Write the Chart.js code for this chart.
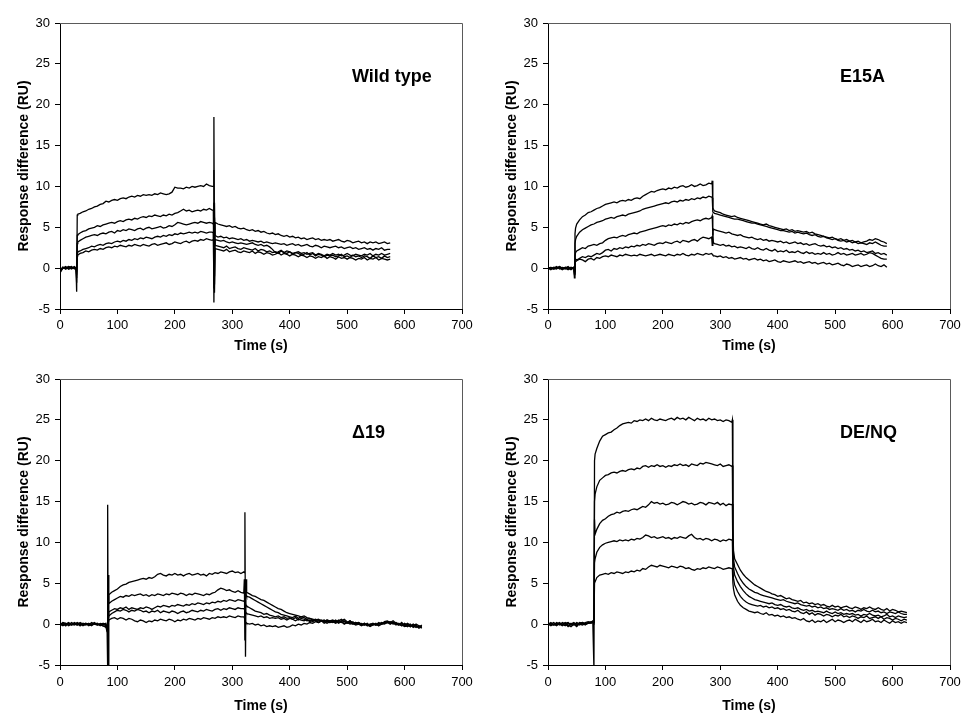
<!DOCTYPE html>
<html>
<head>
<meta charset="utf-8">
<script src="https://cdn.jsdelivr.net/npm/chart.js@4.4.1/dist/chart.umd.min.js"></script>
<style>
  html, body { margin: 0; padding: 0; background: #fff; }
  #hoja { position: relative; width: 976px; height: 728px; }
  .panel { position: absolute; width: 488px; height: 364px; }
</style>
</head>
<body>
<div id="hoja">
  <div class="panel" style="left:0;top:0"><canvas id="gWT" width="488" height="364"></canvas></div>
  <div class="panel" style="left:488px;top:0"><canvas id="gE15A" width="488" height="364"></canvas></div>
  <div class="panel" style="left:0;top:360px"><canvas id="gD19" width="488" height="364"></canvas></div>
  <div class="panel" style="left:488px;top:360px"><canvas id="gDENQ" width="488" height="364"></canvas></div>
</div>
<script>
// Wild type
var tiempoWT = [0,5,10,15,20,25,28,29,30,31,
  35,40,45,50,55,60,65,70,75,80,85,90,95,100,105,110,115,120,125,130,135,140,145,150,155,160,165,170,175,180,185,190,195,200,205,210,215,220,225,230,235,240,245,250,255,260,265,
  267,268,269,270,
  275,280,285,290,295,300,305,310,315,320,325,330,335,340,345,350,355,360,365,370,375,380,385,390,395,400,405,410,415,420,425,430,435,440,445,450,455,460,465,470,475,480,485,490,495,500,505,510,515,520,525,530,535,540,545,550,555,560,565,570,575];
var wt1 = [-0.5,0.1,-0.1,0.2,0.0,0.1,-0.2,-2.9,6.5,6.6,
  6.7,6.9,7.0,7.2,7.3,7.5,7.6,7.8,7.9,8.2, 8.1,8.3,8.4,8.3,8.5,8.6,8.5,8.7,8.8,8.7, 8.9,8.8,9.0,8.9,9.0,8.9,9.1,9.0,9.2,9.1, 9.0,9.1,9.3,9.9,9.8,9.8,9.7,9.9,9.8,10.0, 9.9,10.0,10.1,10.0,10.3,10.1,10.0,
  10.0,18.5,-1.0,5.6,
  5.4,5.3,5.2,5.1,5.2,5.0,5.1,4.9,4.8,4.9, 4.7,4.6,4.7,4.5,4.6,4.4,4.5,4.3,4.2,4.3, 4.1,4.2,4.0,3.9,4.0,3.8,3.9,3.7,3.8,3.6, 3.7,3.5,3.6,3.7,3.5,3.6,3.4,3.5,3.4,3.5, 3.3,3.4,3.5,3.3,3.2,3.4,3.3,3.1,3.2,3.3, 3.1,3.2,3.0,3.2,3.1,3.2,3.0,3.1,3.2,3.0, 3.1];
var wt2 = [-0.3,0.0,0.2,-0.1,0.1,0.0,0.1,-1.8,4.0,4.1,
  4.3,4.5,4.6,4.8,4.9,5.0,5.2,5.1,5.3,5.4, 5.5,5.6,5.5,5.7,5.8,5.7,5.9,6.0,5.9,6.1, 6.0,6.2,6.3,6.2,6.4,6.3,6.5,6.4,6.3,6.5, 6.4,6.6,6.5,6.7,6.8,7.0,7.2,7.0,7.1,6.9, 7.0,7.1,7.0,7.2,7.1,7.3,7.1,
  7.1,-4.2,6.2,4.0,
  3.8,3.9,3.7,3.8,3.6,3.7,3.6,3.5,3.6,3.4, 3.5,3.3,3.4,3.3,3.2,3.3,3.1,3.2,3.1,3.0, 3.1,3.0,2.9,3.0,2.8,2.9,3.0,2.8,2.9,2.7, 2.8,2.9,2.7,2.6,2.8,2.7,2.5,2.7,2.6,2.5, 2.6,2.7,2.5,2.6,2.4,2.5,2.6,2.4,2.5,2.3, 2.4,2.5,2.3,2.4,2.2,2.4,2.3,2.5,2.2,2.3, 2.3];
var wt3 = [-0.2,0.1,0.0,0.2,-0.1,0.1,0.0,-1.2,3.0,3.2,
  3.4,3.6,3.8,3.9,4.0,4.1,4.0,4.2,4.3,4.2, 4.4,4.5,4.3,4.6,4.5,4.7,4.6,4.8,4.7,4.6, 4.8,4.9,4.7,4.9,5.0,4.8,4.9,5.0,5.1,4.9, 5.0,5.2,5.1,5.3,5.6,5.5,5.4,5.3,5.4,5.5, 5.6,5.5,5.7,5.6,5.5,5.6,5.5,
  5.4,12.0,-2.0,3.5,
  3.4,3.3,3.4,3.2,3.1,3.2,3.1,3.0,3.1,3.0, 2.9,3.0,3.1,2.9,2.8,2.9,2.7,2.8,2.6,2.3, 1.9,2.0,2.2,1.9,2.1,2.0,1.8,1.9,2.0,1.8, 1.9,1.7,1.8,1.9,1.6,1.8,1.7,1.5,1.7,1.6, 1.8,1.6,1.7,1.5,1.6,1.8,1.6,1.5,1.7,1.6, 1.5,1.7,1.6,1.8,1.5,1.7,1.6,1.8,1.6,1.7, 1.8];
var wt4 = [-0.4,0.1,-0.1,0.1,0.2,-0.1,0.1,-0.8,1.9,2.0,
  2.1,2.3,2.4,2.5,2.7,2.6,2.8,2.9,2.8,3.0, 3.1,3.0,3.2,3.3,3.2,3.4,3.3,3.5,3.4,3.6, 3.5,3.7,3.6,3.8,3.7,3.6,3.8,3.9,3.8,4.0, 3.9,4.1,4.0,4.2,4.1,4.3,4.2,4.3,4.4,4.3, 4.4,4.3,4.5,4.4,4.3,4.4,4.4,
  4.3,-2.5,8.0,2.8,
  2.7,2.6,2.5,2.7,2.4,2.5,2.6,2.4,2.3,2.5, 2.4,2.3,2.2,2.4,2.1,2.3,2.2,2.0,2.1,1.9, 2.0,1.8,2.1,1.9,1.8,2.0,1.7,1.9,1.8,1.6, 1.7,1.9,1.6,1.8,1.5,1.7,1.6,1.4,1.6,1.5, 1.6,1.4,1.5,1.7,1.4,1.5,1.3,1.6,1.4,1.5, 1.3,1.5,1.4,1.2,1.5,1.3,1.4,1.2,1.5,1.3, 1.4];
var wt5 = [-0.6,0.0,0.1,-0.1,0.0,0.2,-0.1,-0.5,1.5,1.6,
  1.8,1.9,2.1,2.0,2.2,2.3,2.2,2.4,2.3,2.5, 2.6,2.5,2.7,2.6,2.8,2.7,2.6,2.8,2.7,2.9, 2.8,2.7,2.9,2.8,2.7,2.9,3.0,2.8,2.9,3.0, 3.1,2.9,3.0,3.2,3.1,3.0,3.2,3.3,3.1,3.3, 3.4,3.3,3.5,3.4,3.6,3.5,3.4,
  3.5,8.0,-3.0,2.4,
  2.3,2.2,2.1,2.3,2.0,2.1,2.2,2.0,1.9,2.1, 2.0,1.9,2.1,1.8,2.0,1.9,1.7,1.9,1.8,1.6, 1.7,1.9,1.6,1.8,1.7,1.5,1.7,1.6,1.4,1.6, 1.5,1.3,1.5,1.4,1.2,1.4,1.3,1.5,1.2,1.4, 1.3,1.1,1.4,1.2,1.3,1.1,1.3,1.2,1.0,1.2, 1.1,1.3,1.0,1.2,1.1,1.3,1.0,1.2,1.1,1.0, 1.1];

// E15A
var tiempoE15A = [0,5,10,15,20,25,30,35,40,45,46,47,48,
  50,55,60,65,70,75,80,85,90,95,100,105,110,115,120,125,130,135,140,145,150,155,160,165,170,175,180,185,190,195,200,205,210,215,220,225,230,235,240,245,250,255,260,265,270,275,280,285,
  286,287,288,
  290,295,300,305,310,315,320,325,330,335,340,345,350,355,360,365,370,375,380,385,390,395,400,405,410,415,420,425,430,435,440,445,450,455,460,465,470,475,480,485,490,495,500,505,510,515,520,525,530,535,540,545,550,555,560,565,570,575,580,585,590];
var e1 = [0.1,-0.1,0.0,0.2,-0.1,0.1,0.0,-0.2,0.1,0.0,-1.2,4.2,4.9,
  5.4,5.9,6.3,6.5,6.8,6.9,7.1,7.3,7.4,7.6, 7.8,7.9,8.0,8.1,8.0,8.2,8.3,8.2,8.4,8.3, 8.5,8.6,8.5,8.8,9.0,9.2,9.4,9.3,9.5,9.6, 9.7,9.6,9.8,9.7,9.9,9.8,10.0,10.1,9.9,10.0, 10.2,10.0,10.1,10.3,10.1,10.2,10.4,10.3,
  10.7,7.4,7.2,
  7.0,6.9,6.8,6.6,6.5,6.4,6.3,6.4,6.2,6.1, 6.0,5.9,5.8,5.7,5.6,5.5,5.4,5.3,5.4,5.2, 5.1,5.0,4.9,4.8,4.7,4.8,4.6,4.7,4.5,4.6, 4.5,4.4,4.5,4.3,4.4,4.2,4.1,4.0,3.9,3.8, 3.7,3.8,3.6,3.5,3.6,3.4,3.5,3.3,3.4,3.2, 3.3,3.1,3.2,3.3,3.5,3.4,3.6,3.5,3.3,3.2, 3.0];
var e2 = [0.0,0.1,-0.1,0.0,0.2,-0.1,0.1,0.0,-0.2,0.1,-0.8,3.0,3.5,
  3.9,4.4,4.7,4.9,5.1,5.3,5.4,5.6,5.7,5.8, 6.0,6.1,6.2,6.1,6.3,6.4,6.5,6.4,6.6,6.7, 6.8,6.9,7.0,7.2,7.3,7.4,7.5,7.6,7.7,7.8, 7.9,8.0,7.9,8.1,8.2,8.1,8.3,8.2,8.4,8.3, 8.5,8.4,8.6,8.5,8.7,8.6,8.8,8.7,
  8.6,6.9,6.8,
  6.7,6.6,6.5,6.4,6.3,6.2,6.1,6.0,6.0,5.9, 5.8,5.7,5.6,5.5,5.5,5.4,5.3,5.2,5.1,5.0, 4.9,4.8,4.7,4.6,4.6,4.5,4.4,4.5,4.3,4.4, 4.3,4.2,4.3,4.1,4.0,4.1,3.9,3.8,3.9,3.7, 3.6,3.5,3.6,3.4,3.3,3.4,3.2,3.3,3.1,3.2, 3.0,3.1,3.0,2.9,3.1,3.0,3.2,3.0,2.8,2.7, 2.7];
var e3 = [-0.1,0.1,0.0,-0.1,0.2,0.0,-0.1,0.1,0.0,0.1,-0.6,1.5,1.9,
  2.1,2.3,2.5,2.4,2.7,2.8,2.9,2.8,3.0,3.1, 3.4,3.6,3.7,3.8,3.7,3.9,4.0,3.9,4.1,4.2, 4.3,4.2,4.4,4.5,4.6,4.7,4.8,4.9,5.0,5.1, 5.2,5.1,5.3,5.2,5.4,5.3,5.5,5.4,5.6,5.5, 5.7,5.8,5.9,5.8,6.0,6.1,6.0,6.2,
  6.4,4.0,4.8,
  4.7,4.6,4.5,4.4,4.3,4.4,4.2,4.1,4.0,4.1, 3.9,3.8,3.7,3.8,3.6,3.5,3.6,3.4,3.5,3.3, 3.4,3.3,3.2,3.3,3.1,3.2,3.0,3.1,3.2,3.0, 3.1,2.9,3.0,2.8,2.9,3.0,2.8,2.7,2.8,2.6, 2.7,2.5,2.6,2.4,2.5,2.3,2.4,2.2,2.3,2.1, 2.2,2.0,2.1,1.9,2.0,2.1,1.8,1.9,1.7,1.8, 1.6];
var e4 = [0.0,-0.2,0.1,0.0,0.1,-0.1,0.0,0.2,-0.1,0.0,-0.4,0.9,1.1,
  1.0,1.2,1.4,1.3,1.5,1.4,1.6,1.8,1.7,1.9, 2.2,2.3,2.1,2.4,2.3,2.5,2.4,2.6,2.5,2.7, 2.6,2.8,2.7,2.9,2.8,3.0,2.9,2.8,3.0,3.1, 3.0,3.2,3.1,3.0,3.2,3.3,3.1,3.4,3.3,3.2, 3.4,3.5,3.3,3.6,3.8,3.7,3.6,3.8,
  2.8,4.4,3.1,
  3.0,2.9,2.8,2.9,2.7,2.8,2.6,2.7,2.5,2.6, 2.5,2.4,2.6,2.4,2.3,2.5,2.3,2.2,2.4,2.2, 2.1,2.3,2.0,2.1,2.0,2.2,1.9,2.0,1.9,2.1, 1.9,1.8,2.0,1.8,1.9,1.7,1.8,1.7,1.9,1.7, 1.8,1.6,1.7,1.9,1.7,1.8,1.6,1.7,1.8,1.6, 1.7,1.8,1.6,1.7,1.9,1.8,1.6,1.4,1.2,1.1, 1.1];
var e5 = [0.1,0.0,-0.1,0.1,0.0,-0.2,0.1,0.0,-0.1,0.1,-0.2,0.6,0.8,
  0.9,1.1,1.0,0.8,1.1,1.2,1.0,1.3,1.2,1.4, 1.5,1.4,1.6,1.5,1.4,1.6,1.5,1.7,1.6,1.5, 1.6,1.5,1.7,1.6,1.5,1.6,1.7,1.5,1.6,1.7, 1.6,1.5,1.7,1.6,1.5,1.7,1.6,1.8,1.6,1.5, 1.7,1.6,1.8,1.7,1.6,1.8,1.7,1.8,
  1.7,1.6,1.5,
  1.5,1.4,1.5,1.3,1.4,1.2,1.3,1.1,1.2,1.3, 1.1,1.2,1.0,1.1,1.2,1.0,1.1,0.9,1.0,0.8, 0.9,1.0,0.8,0.7,0.9,0.8,0.7,0.8,0.9,0.7, 0.8,0.6,0.7,0.8,0.6,0.7,0.5,0.6,0.7,0.5, 0.6,0.4,0.5,0.6,0.4,0.3,0.5,0.4,0.2,0.3, 0.4,0.2,0.3,0.4,0.2,0.3,0.5,0.3,0.2,0.4, 0.1];

// Delta 19
var tiempoD19 = [0,5,10,15,20,25,30,35,40,45,50,55,60,65,70,75,80,82,83,84,
  85,90,95,100,105,110,115,120,125,130,135,140,145,150,155,160,165,170,175,180,185,190,195,200,205,210,215,220,225,230,235,240,245,250,255,260,265,270,275,280,285,290,295,300,305,310,315,320,
  321,322,323,324,
  325,330,335,340,345,350,355,360,365,370,375,380,385,390,395,400,405,410,415,420,425,430,435,440,445,450,455,460,465,470,475,480,485,490,495,500,505,510,515,520,525,530,535,540,545,550,555,560,565,570,575,580,585,590,595,600,605,610,615,620,625,630];
var d1 = [-0.1,0.2,0.1,-0.2,0.0,0.1,-0.1,0.2,0.0,-0.1,0.1,0.0,0.2,-0.1,0.0,-0.2,-0.3,-0.5,14.6,-5.5,
  3.6,3.9,4.1,4.3,4.6,4.8,4.9,5.1,5.2,5.3, 5.4,5.5,5.6,5.5,5.7,5.6,5.8,6.1,6.2,6.0, 5.9,6.1,6.0,6.2,6.0,6.1,5.9,6.1,6.2,6.0, 6.1,6.2,6.0,6.1,5.9,6.2,6.1,6.3,6.2,6.4, 6.3,6.2,6.4,6.5,6.3,6.4,6.2,6.4,
  6.3,13.7,-4.0,5.5,
  3.9,3.7,3.5,3.4,3.2,3.0,2.9,2.7,2.5,2.3, 2.1,1.9,1.8,1.6,1.4,1.3,1.2,1.1,1.0,0.9, 1.0,0.8,0.7,0.6,0.5,0.6,0.4,0.5,0.3,0.4, 0.5,0.3,0.4,0.6,0.3,0.2,0.4,0.1,0.0,0.2, 0.0,-0.1,0.1,-0.2,0.0,-0.1,0.1,0.0,0.2,0.3, 0.1,0.2,0.0,-0.1,0.1,-0.2,0.0,-0.3,-0.1,-0.2, -0.3,-0.2];
var d2 = [0.1,-0.1,0.0,0.2,-0.1,0.0,0.1,-0.2,0.1,0.0,-0.1,0.2,0.0,-0.1,0.1,0.0,-0.2,-0.6,-5.5,6.0,
  2.5,2.8,3.0,3.2,3.4,3.3,3.5,3.4,3.6,3.5, 3.6,3.7,3.5,3.6,3.4,3.6,3.5,3.7,3.6,3.5, 3.7,3.6,3.8,3.7,3.6,3.8,3.7,3.5,3.7,3.6, 3.8,3.7,3.6,3.5,3.7,3.6,3.8,3.9,4.2,4.4, 4.3,4.1,4.2,4.0,3.9,4.1,3.9,3.8,
  5.5,-2.0,4.8,3.6,
  3.4,3.3,3.1,2.9,2.7,2.5,2.3,2.1,1.9,1.7, 1.5,1.4,1.2,1.1,1.0,0.9,0.8,1.0,0.7,0.9, 0.8,0.6,0.7,0.5,0.6,0.4,0.5,0.3,0.5,0.4, 0.3,0.5,0.2,0.4,0.6,0.3,0.1,0.3,0.0,0.2, -0.1,0.1,-0.2,0.0,0.1,-0.1,0.2,0.0,0.3,0.4, 0.2,0.0,0.1,-0.1,0.2,-0.2,0.1,-0.1,-0.3,0.0, -0.2,-0.4];
var d3 = [0.0,0.1,-0.2,0.1,0.0,-0.1,0.2,0.0,-0.1,0.1,0.0,-0.2,0.1,0.0,-0.1,0.1,-0.1,-0.8,2.0,1.2,
  1.5,1.7,1.9,1.8,2.0,1.9,2.1,1.8,2.0,1.9, 1.8,2.0,1.9,2.1,2.0,1.8,2.0,2.2,2.1,2.3, 2.2,2.1,2.3,2.2,2.4,2.3,2.2,2.4,2.3,2.5, 2.4,2.6,2.5,2.4,2.6,2.5,2.7,2.6,2.8,2.7, 2.9,2.8,3.0,2.9,2.8,3.0,2.9,2.8,
  2.9,3.0,2.5,2.3,
  2.2,2.0,1.8,1.6,1.5,1.4,1.2,1.3,1.1,1.0, 0.9,1.0,0.8,0.9,0.7,0.8,0.6,0.8,0.5,0.7, 0.6,0.4,0.5,0.3,0.5,0.2,0.4,0.3,0.1,0.3, 0.2,0.4,0.1,0.3,0.0,0.2,0.4,0.1,0.2,0.0, 0.1,-0.1,0.0,-0.2,0.1,-0.1,0.0,0.2,0.1,0.3, 0.2,0.4,0.1,0.0,-0.2,0.1,-0.1,-0.3,0.0,-0.2, -0.4,-0.1];
var d4 = [-0.2,0.0,0.1,-0.1,0.2,0.0,-0.1,0.1,-0.2,0.0,0.1,-0.1,0.0,0.1,-0.2,0.0,0.1,-0.4,1.0,0.9,
  1.0,1.3,1.5,1.7,1.6,1.8,1.7,1.5,1.7,1.6, 1.8,1.7,1.5,1.6,1.4,1.6,1.5,1.7,1.4,1.6, 1.5,1.4,1.6,1.5,1.3,1.5,1.6,1.4,1.5,1.7, 1.6,1.5,1.7,1.6,1.8,1.7,1.6,1.8,1.9,1.7, 1.9,1.8,2.0,1.9,1.8,2.0,1.9,1.9,
  1.8,1.9,1.5,1.4,
  1.3,1.2,1.1,1.0,0.9,1.0,0.8,0.9,0.7,0.8, 0.7,0.8,0.6,0.7,0.5,0.7,0.6,0.4,0.6,0.5, 0.4,0.6,0.3,0.5,0.4,0.2,0.4,0.3,0.5,0.2, 0.3,0.1,0.3,0.2,0.4,0.1,0.2,0.0,0.2,0.1, -0.1,0.1,-0.2,0.0,-0.1,0.1,-0.2,0.0,0.1,0.2, 0.0,0.2,-0.1,0.1,-0.2,0.0,-0.3,-0.1,-0.2,-0.4, -0.2,-0.5];
var d5 = [0.1,-0.2,0.0,0.1,-0.1,0.2,0.0,-0.1,0.0,0.1,-0.2,0.0,0.1,0.0,-0.1,-0.2,-0.4,-0.9,0.2,0.4,
  0.5,0.7,0.8,0.6,0.8,0.7,0.5,0.7,0.6,0.4, 0.3,0.5,0.4,0.2,0.4,0.3,0.5,0.4,0.6,0.5, 0.4,0.6,0.5,0.3,0.5,0.4,0.6,0.5,0.7,0.6, 0.5,0.7,0.6,0.8,0.7,0.6,0.8,0.7,0.9,0.8, 0.9,0.8,1.0,0.9,0.8,1.0,0.9,0.9,
  0.8,0.5,0.2,0.2,
  0.1,0.0,0.1,-0.1,0.0,-0.2,-0.1,-0.3,-0.2,-0.3, -0.2,-0.4,-0.3,-0.2,-0.4,-0.3,-0.1,-0.2,0.0,-0.1, 0.1,0.0,0.2,0.1,0.3,0.2,0.4,0.1,0.3,0.2, 0.4,0.2,0.5,0.3,0.1,0.2,0.0,0.1,-0.1,0.0, -0.2,0.0,-0.1,-0.3,-0.1,0.0,-0.2,0.1,0.0,0.2, 0.3,0.1,0.2,0.0,-0.1,-0.3,-0.2,0.0,-0.4,-0.2, -0.5,-0.3];

// DE/NQ
var tiempoDENQ = [0,5,10,15,20,25,30,35,40,45,50,55,60,65,70,75,78,80,81,82,
  85,90,95,100,105,110,115,120,125,130,135,140,145,150,155,160,165,170,175,180,185,190,195,200,205,210,215,220,225,230,235,240,245,250,255,260,265,270,275,280,285,290,295,300,305,310,315,320,
  321,322,323,
  325,330,335,340,345,350,355,360,365,370,375,380,385,390,395,400,405,410,415,420,425,430,435,440,445,450,455,460,465,470,475,480,485,490,495,500,505,510,515,520,525,530,535,540,545,550,555,560,565,570,575,580,585,590,595,600,605,610,615,620,625];
var n1 = [-0.2,0.1,-0.1,0.2,0.0,-0.2,0.1,0.2,-0.1,0.0,-0.3,0.1,0.0,0.2,0.3,0.2,0.3,-5.5,20.0,20.8,
  21.5,22.4,23.0,23.2,23.4,23.5,23.8,24.0,24.3,24.5, 24.6,24.7,24.6,24.9,24.8,25.0,24.9,25.1,24.9,25.2, 25.0,24.9,25.1,25.0,24.9,25.1,25.2,25.0,25.3,25.1, 25.2,25.0,25.3,25.1,24.9,25.2,25.0,25.1,24.9,25.2, 25.0,25.1,24.9,25.0,24.8,25.0,24.9,24.7,
  25.0,12.0,9.0,
  8.0,7.3,6.6,6.1,5.7,5.4,5.1,4.8,4.6,4.4, 4.2,4.0,3.9,3.7,3.6,3.4,3.5,3.3,3.1,3.2, 3.0,2.9,2.8,2.9,2.6,2.7,2.5,2.6,2.4,2.5, 2.3,2.4,2.2,2.1,2.3,2.1,2.2,2.0,2.1,2.2, 2.0,1.9,2.1,2.0,1.8,2.0,1.9,2.1,1.9,1.8, 2.0,1.8,1.7,1.9,1.6,1.8,1.7,1.5,1.6,1.5, 1.4];
var n2 = [0.1,-0.2,0.0,0.1,-0.1,0.2,0.0,-0.2,0.1,-0.1,0.2,0.0,-0.1,0.1,0.2,0.3,0.2,0.2,15.0,15.9,
  16.8,17.6,17.9,18.2,18.3,18.5,18.6,18.5,18.7,18.8, 18.7,18.9,19.0,18.9,19.1,19.0,19.3,19.4,19.2,19.4, 19.3,19.5,19.3,19.4,19.2,19.4,19.3,19.5,19.4,19.6, 19.4,19.5,19.3,19.6,19.5,19.4,19.7,19.6,19.8,19.7, 19.6,19.5,19.4,19.6,19.3,19.4,19.5,19.3,
  19.4,10.0,8.0,
  7.0,6.2,5.5,5.0,4.6,4.3,4.1,3.9,3.8,3.6, 3.5,3.4,3.3,3.2,3.1,3.0,2.9,3.0,2.8,2.7, 2.6,2.5,2.6,2.4,2.3,2.2,2.3,2.1,2.2,2.0, 2.1,1.9,2.0,1.8,1.9,1.8,1.7,1.9,1.7,1.8, 1.6,1.7,1.5,1.7,1.6,1.8,1.6,1.5,1.7,1.5, 1.6,1.4,1.5,1.3,1.5,1.4,1.3,1.5,1.3,1.2, 1.2];
var n3 = [-0.1,0.0,0.2,-0.1,0.1,0.0,-0.2,0.1,0.0,0.2,-0.1,0.1,0.2,0.0,0.1,0.2,0.4,0.3,12.8,11.0,
  11.6,12.3,12.7,12.9,13.2,13.4,13.5,13.7,13.6,13.8, 13.9,13.8,14.0,14.1,14.0,14.2,14.4,14.3,14.6,15.0, 14.8,14.9,14.7,14.8,14.6,14.7,14.9,14.8,14.6,14.8, 15.0,14.9,14.7,14.8,14.6,14.7,14.9,14.8,14.6,14.9, 14.8,14.7,14.9,14.6,14.8,14.5,14.7,14.6,
  14.7,8.0,7.0,
  6.0,5.2,4.6,4.1,3.7,3.4,3.2,3.0,2.9,2.8, 2.7,2.6,2.5,2.6,2.4,2.3,2.4,2.2,2.1,2.2, 2.0,1.9,2.0,1.8,1.7,1.8,1.6,1.7,1.5,1.6, 1.5,1.4,1.6,1.4,1.3,1.5,1.3,1.4,1.2,1.3, 1.2,1.3,1.1,1.2,1.0,1.2,1.1,1.3,1.1,1.0, 1.1,0.9,1.0,1.2,0.9,1.0,0.8,1.0,0.9,0.8, 0.9];
var n4 = [0.0,0.2,-0.1,0.0,0.2,-0.1,0.1,-0.3,0.0,0.1,-0.2,0.2,0.1,-0.1,0.2,0.1,0.3,0.1,7.5,8.0,
  8.8,9.4,9.7,9.9,10.0,10.1,10.2,10.1,10.3,10.2, 10.3,10.2,10.4,10.3,10.5,10.4,10.6,10.9,10.8,10.6, 10.7,10.5,10.6,10.7,10.5,10.6,10.4,10.6,10.5,10.7, 10.6,10.5,10.8,11.0,10.6,10.4,10.5,10.3,10.5,10.4, 10.2,10.4,10.3,10.1,10.3,10.2,10.4,10.3,
  10.3,6.5,5.6,
  4.8,4.0,3.4,3.0,2.7,2.5,2.4,2.3,2.2,2.3, 2.1,2.2,2.0,2.1,1.9,2.0,1.8,1.9,1.7,1.8, 1.6,1.5,1.7,1.4,1.3,1.5,1.2,1.4,1.1,1.3, 1.2,1.0,1.2,1.1,0.9,1.1,1.0,1.2,0.9,1.0, 0.8,1.0,0.9,0.7,0.9,0.8,1.0,0.7,0.8,0.9, 0.7,0.9,0.6,0.8,0.7,0.5,0.7,0.6,0.4,0.6, 0.5];
var n5 = [0.1,-0.1,0.0,-0.2,0.1,0.0,0.2,-0.1,-0.3,0.0,0.1,-0.1,0.2,0.0,0.1,0.2,0.2,0.2,5.0,5.2,
  5.7,6.0,6.1,6.2,6.1,6.3,6.2,6.4,6.3,6.2, 6.4,6.3,6.5,6.4,6.6,6.5,6.8,6.7,7.0,7.2, 7.1,7.0,7.2,7.1,7.0,6.9,7.1,7.0,6.9,7.1, 7.0,6.8,6.9,6.7,6.6,6.8,6.7,6.9,6.8,7.0, 6.9,6.8,7.0,6.9,6.7,6.8,6.9,6.8,
  6.8,5.0,4.3,
  3.6,2.8,2.3,2.0,1.8,1.6,1.5,1.4,1.5,1.3, 1.2,1.4,1.1,1.2,1.0,1.1,0.9,1.0,0.8,0.9, 0.7,0.8,0.6,0.5,0.7,0.4,0.3,0.5,0.2,0.4, 0.3,0.5,0.2,0.4,0.6,0.3,0.5,0.4,0.2,0.4, 0.5,0.3,0.6,0.4,0.2,0.5,0.3,0.4,0.6,0.3, 0.4,0.2,0.5,0.3,0.1,0.4,0.2,0.3,0.1,0.3, 0.2];

var ejeX = [0, 700, 100];
var ejeY = [-5, 30, 5];

Chart.defaults.font.family = "'Liberation Sans', Arial, Helvetica, sans-serif";
Chart.defaults.color = '#000';

// frame top/right edges and the panel name
var rotulo = {
  id: 'rotulo',
  afterDraw: function(chart, args, opts) {
    var a = chart.chartArea;
    var ctx = chart.ctx;
    ctx.save();
    ctx.strokeStyle = '#5a5a5a';
    ctx.lineWidth = 1;
    ctx.beginPath();
    ctx.moveTo(a.left, a.top + 0.5);
    ctx.lineTo(a.right + 0.5, a.top + 0.5);
    ctx.lineTo(a.right + 0.5, a.bottom);
    ctx.stroke();
    ctx.fillStyle = '#000';
    ctx.font = 'bold 18px "Liberation Sans", Arial, sans-serif';
    ctx.textAlign = 'left';
    ctx.textBaseline = 'alphabetic';
    ctx.fillText(opts.texto, a.left + 292, a.top + 59);
    ctx.restore();
  }
};

function mostrarGrafico(id, texto, tiempos, curvas, arriba, altoX, padX) {
  var ctx = document.getElementById(id);
  var series = [];
  curvas.forEach(function(c) {
    series.push({
      data: tiempos.map(function(t, i) { return {x: t, y: c[i]}; }),
      borderColor: '#000',
      borderWidth: 1.3,
      pointRadius: 0,
      tension: 0,
      fill: false
    });
  });
  new Chart(ctx, {
    type: 'line',
    data: { datasets: series },
    options: {
      responsive: false,
      animation: false,
      devicePixelRatio: 1,
      layout: { padding: { top: arriba, right: 26, left: 0, bottom: 0 } },
      plugins: {
        legend: { display: false },
        tooltip: { enabled: false },
        rotulo: { texto: texto }
      },
      scales: {
        x: {
          type: 'linear', min: ejeX[0], max: ejeX[1],
          afterFit: function(s) { s.height = altoX; },
          ticks: { stepSize: ejeX[2], padding: padX, maxRotation: 0, font: { size: 13 } },
          grid: { drawOnChartArea: false, tickLength: 5, color: '#000' },
          border: { color: '#000' },
          title: { display: true, text: 'Time (s)', font: { size: 14, weight: 'bold' }, padding: { top: 0, bottom: 9 } }
        },
        y: {
          type: 'linear', min: ejeY[0], max: ejeY[1],
          afterFit: function(s) { s.width = 60; },
          ticks: { stepSize: ejeY[2], padding: 5, font: { size: 13 } },
          grid: { drawOnChartArea: false, tickLength: 5, color: '#000' },
          border: { color: '#000' },
          title: { display: true, text: 'Response difference (RU)', font: { size: 14, weight: 'bold' }, padding: { top: 16, bottom: 0 } }
        }
      }
    },
    plugins: [rotulo]
  });
}

mostrarGrafico('gWT', 'Wild type', tiempoWT, [wt1, wt2, wt3, wt4, wt5], 23, 55, 4);
mostrarGrafico('gE15A', 'E15A', tiempoE15A, [e1, e2, e3, e4, e5], 23, 55, 4);
mostrarGrafico('gD19', '\u039419', tiempoD19, [d1, d2, d3, d4, d5], 19, 59, 5);
mostrarGrafico('gDENQ', 'DE/NQ', tiempoDENQ, [n1, n2, n3, n4, n5], 19, 59, 5);
</script>
</body>
</html>
